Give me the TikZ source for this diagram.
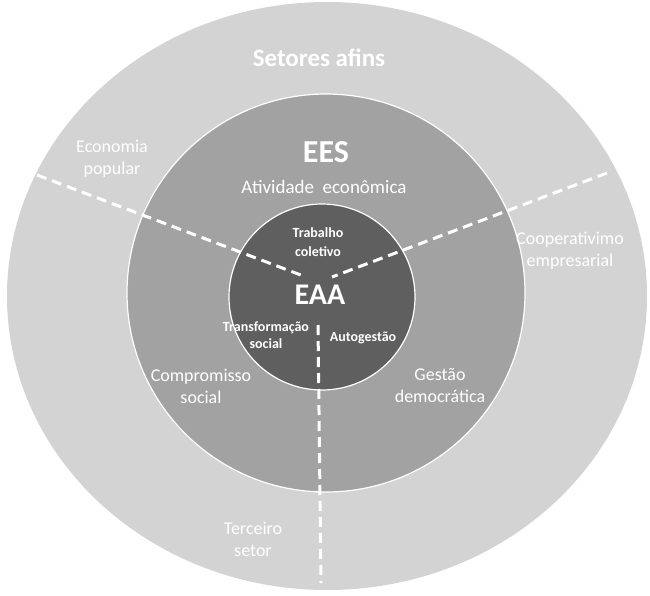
\documentclass[tikz,border=0pt]{standalone}
\usepackage{fontspec}
\setmainfont{Carlito}
\usetikzlibrary{shapes.geometric}
\definecolor{ringout}{HTML}{D3D3D3}
\definecolor{ringmid}{HTML}{A2A2A2}
\definecolor{ringin}{HTML}{5F5F5F}
\begin{document}
\begin{tikzpicture}[x=1pt,y=-1pt,
  disc/.style={circle, draw=white, line width=1.2pt, inner sep=0pt},
  divider/.style={draw=white, line width=3pt, dash pattern=on 10pt off 6pt},
  lbl/.style={text=white, inner sep=0pt, align=center},
  sidelbl/.style={lbl, font=\fontsize{18}{22}\selectfont},
  smalllbl/.style={lbl, font=\bfseries\fontsize{14}{16.5}\selectfont},
  biglbl/.style={lbl, font=\bfseries\fontsize{32}{34}\selectfont}]
\useasboundingbox (0,0) rectangle (650,595);
\fill[white] (0,0) rectangle (650,595);
% rings
\node[ellipse, fill=ringout, minimum width=640pt, minimum height=588pt, inner sep=0pt] (outer) at (327,296) {};
\node[disc, fill=ringmid, minimum size=398pt] (mid) at (326,293) {};
\node[disc, fill=ringin, minimum size=186pt] (inner) at (322,297) {};
% dividers
\coordinate (leftout) at (37,175);
\coordinate (leftin) at (306,277);
\coordinate (rightout) at (607,173);
\coordinate (rightin) at (332,277);
\coordinate (downin) at (318,325);
\coordinate (downout) at (321,583);
\draw[divider] (leftout) -- (leftin);
\draw[divider] (rightout) -- (rightin);
\draw[divider] (downin) -- (downout);
% labels
\node[lbl, font=\bfseries\fontsize{25}{28}\selectfont] (setores) at (319,58) {Setores afins};
\node[biglbl] (ees) at (326,152) {EES};
\node[lbl, font=\fontsize{19}{22}\selectfont] (atividade) at (324,187) {Atividade\ \ econômica};
\node[smalllbl, font=\bfseries\fontsize{14}{19}\selectfont] (trabalho) at (318,242) {Trabalho\\coletivo};
\node[biglbl, font=\bfseries\fontsize{30}{32}\selectfont] (eaa) at (320,295) {EAA};
\node[smalllbl] (transf) at (266,335) {Transformação\\social};
\node[smalllbl] (autog) at (363,338) {Autogestão};
\node[sidelbl] (economia) at (112,159) {Economia\\popular};
\node[sidelbl] (coop) at (570,251) {Cooperativimo\\empresarial};
\node[sidelbl] (compromisso) at (201,386) {Compromisso\\social};
\node[sidelbl] (gestao) at (440,386) {Gestão\\democrática};
\node[sidelbl] (terceiro) at (253,539) {Terceiro\\setor};
\end{tikzpicture}
\end{document}
